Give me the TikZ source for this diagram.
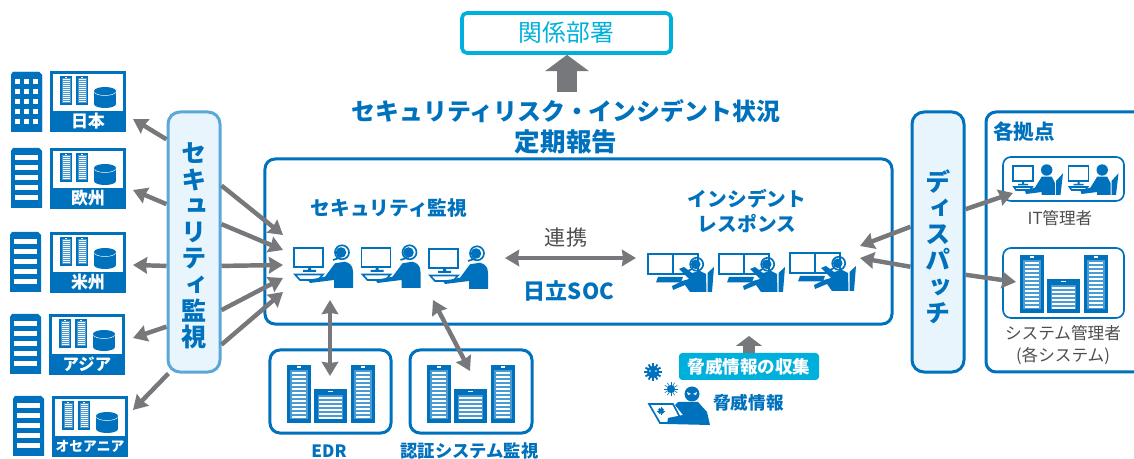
\documentclass[tikz,border=0pt]{standalone}
\usepackage{fontspec}
\setmainfont{Noto Sans CJK JP}
\newfontfamily\vertfont[RawFeature=+vert]{Noto Sans CJK JP}
\usetikzlibrary{arrows.meta, calc}

\definecolor{iconblue}{HTML}{0071BC}
\definecolor{stripeblue}{HTML}{4A9AD4}
\definecolor{paleblue}{HTML}{E8F5FC}
\definecolor{edgeblue}{HTML}{5BA7D8}
\definecolor{skyblue}{HTML}{00B0DC}
\definecolor{arrowgray}{HTML}{77787B}
\definecolor{textgray}{HTML}{4D4D4D}

\tikzset{
  flowarrow/.style={draw=arrowgray,line width=3.8pt,-{Stealth[length=12pt,width=14pt,inset=1pt]}},
  bothways/.style={draw=arrowgray,line width=3.8pt,{Stealth[length=12pt,width=14pt,inset=1pt]}-{Stealth[length=12pt,width=14pt,inset=1pt]}},
  uparrow/.style={draw=arrowgray,line width=#1,-{Triangle[length=14pt,width=37pt]}},
  stackbox/.style={draw=edgeblue,fill=paleblue,line width=0.09cm,rounded corners=0.36cm,
    minimum width=1.56cm,minimum height=7.8cm,inner sep=0pt},
  stacktext/.style={align=center,text=iconblue,inner sep=0pt,
    font=\vertfont\bfseries\fontsize{21.5}{22.4}\selectfont},
  panel/.style={draw=iconblue,line width=0.09cm,rounded corners=0.3cm,inner sep=0pt},
  thinpanel/.style={draw=iconblue,line width=0.05cm,rounded corners=0.24cm,inner sep=0pt,minimum width=3.63cm},
  bluehead/.style={text=iconblue,font=\bfseries\fontsize{#1}{#1}\selectfont,align=center,inner sep=0pt},
  grayhead/.style={text=textgray,font=\fontsize{#1}{#1}\selectfont,align=center,inner sep=0pt},
  sitelabel/.style={text=white,font=\bfseries\fontsize{#1}{#1}\selectfont,inner sep=0pt},
  screen/.style={draw=iconblue,line width=0.05cm,fill=white},
  pics/towerserver/.style={code={
    \fill[iconblue] (0,0) rectangle (24,58);
    \fill[stripeblue] (3,5) rectangle (21,54);
    \foreach \row in {7,11,...,51} {
      \fill[white] (5,\row) rectangle (19,\row+1.8);
    }
    \fill[white] (10,1.5) rectangle (14,3);
  }},
  pics/shortserver/.style={code={
    \fill[iconblue] (0,0) rectangle (33,34);
    \fill[stripeblue] (4,6) rectangle (29,30);
    \foreach \row in {8,12,...,28} {
      \fill[white] (5,\row) rectangle (28,\row+1.8);
    }
    \fill[white] (14,2) rectangle (19,3.5);
  }},
  pics/servergroup/.style={code={
    \pic at (0,0) {towerserver};
    \pic at (27,24) {shortserver};
    \pic at (64,0) {towerserver};
  }},
  pics/windowbuilding/.style={code={
    \fill[iconblue] (0,3) -- (2,0) -- (28,0) -- (31,3) -- (31,60) -- (0,60) -- cycle;
    \foreach \col in {4,13,22} {
      \foreach \row in {7,17,27,37,47} {
        \fill[white] (\col,\row) rectangle (\col+5,\row+5);
      }
    }
  }},
  pics/stripebuilding/.style={code={
    \fill[iconblue] (0,3) -- (2,0) -- (28,0) -- (31,3) -- (31,60) -- (0,60) -- cycle;
    \foreach \row in {7,17,27,37,47} {
      \fill[white] (4,\row) rectangle (27,\row+5);
    }
  }},
  pics/sitepanel/.style={code={
    \fill[iconblue] (0,0) rectangle (76,61);
    \fill[white] (3,3) rectangle (73,40);
    \pic[scale=0.5] at (10,5) {towerserver};
    \pic[scale=0.5] at (26,5) {towerserver};
    \fill[iconblue] (44,20) rectangle (66,33);
    \fill[iconblue] (55,20) ellipse (11 and 4);
    \fill[iconblue] (55,33) ellipse (11 and 4);
    \draw[white,line width=0.4pt] (44.5,21) arc (180:0:10.5 and 3.5);
  }},
  pics/operator/.style={code={
    \draw[screen] (0,0) rectangle (29,19);
    \fill[iconblue] (14,19) rectangle (17,22) (9,22) rectangle (22,24);
    \draw[screen] (1,26.5) -- (29,26.5) -- (24,32) -- (6,32) -- cycle;
    \fill[iconblue] (41,15.3) -- (51,13.7) .. controls (56,15) and (59,18) .. (59,24) -- (59,40) -- (40,40) -- (40,32)
      -- (16,35) -- (14,32) -- (31,28.7) -- cycle;
    \draw[iconblue,line width=0.05cm] (48,4.3) circle (7);
    \fill[iconblue] (47,4.5) circle (5.3);
    \draw[iconblue,line width=0.05cm] (46,9.7) -- (39,12);
  }},
  pics/responder/.style={code={
    \draw[screen] (0,0) rectangle (25,20) (25,0) rectangle (50,20);
    \fill[iconblue] (10,23) -- (35,23) -- (33,28.5) -- (8,28.5) -- cycle;
    \fill[iconblue] (59.5,19) -- (66,13) -- (64,38) -- (59.5,38) -- cycle;
    \fill[iconblue] (31,15) -- (36,13) -- (44,19) -- (52,17) -- (58,20) -- (58.5,38) -- (42,38) -- (37,31)
      -- (25,36) -- (24,32) -- (34,27) -- (41,25) -- cycle;
    \draw[iconblue,line width=0.05cm] (48.7,10.3) circle (6.5);
    \fill[iconblue] (47.7,10.3) circle (4.8);
    \draw[iconblue,line width=0.05cm] (44,15) -- (38,18);
  }},
  pics/admin/.style={code={
    \draw[screen] (0,0) rectangle (20,15);
    \fill[iconblue] (9,15) rectangle (11,18) (5,18) rectangle (15,19.5);
    \draw[screen] (1,21) -- (19,21) -- (17,24) -- (3,24) -- cycle;
    \fill[iconblue] (33.7,4) circle (5.7);
    \fill[iconblue] (43,15) -- (50,7.3) -- (47.5,29) -- (43,29) -- cycle;
    \fill[iconblue] (28.7,10.7) -- (38.7,10.7) -- (42,17) -- (42,29) -- (28.7,29) -- (28.7,26) -- (13,28) -- (12,25) -- (22,21.5) -- cycle;
  }},
  pics/virus/.style 2 args={code={
    \foreach \spoke in {0,30,...,330} {
      \draw[iconblue,line width=#1] (0,0) -- (\spoke:#2);
    }
    \fill[iconblue] (0,0) circle (1);
  }}
}

\begin{document}
\begin{tikzpicture}[x=0.03cm,y=-0.03cm]
  \useasboundingbox (0,0) rectangle (1134,459);

  % top
  \node[draw=skyblue,line width=0.11cm,rounded corners=0.15cm,minimum width=6.27cm,minimum height=1.2cm,
    text=skyblue,font=\fontsize{20.3}{24}\selectfont,inner sep=0pt] (dept) at (566.5,33) {関係部署};
  \node[bluehead=20.4] (report) at (566,127) {セキュリティリスク・インシデント状況\\[5pt]{\fontsize{21.8}{22}\selectfont 定期報告}};
  \coordinate (reportup) at (567,92);
  \draw[uparrow=17pt] (reportup) -- (dept.south -| reportup);

  % soc
  \node[panel,minimum width=18.81cm,minimum height=4.95cm] (soc) at (578.5,241.5) {};
  \node[bluehead=16.8] (monitoring) at (389,208) {セキュリティ監視};
  \node[bluehead=16.8] (response) at (747,211) {インシデント\\[4pt]レスポンス};
  \node[grayhead=18] (link) at (566,238) {連携};
  \node[bluehead=18.8] (socname) at (569,291) {日立SOC};
  \foreach \x/\y in {294/248,361.5/248,429/249} {
    \pic at (\x,\y) {operator};
  }
  \foreach \x/\y in {648/254,719/254,790/253} {
    \pic at (\x,\y) {responder};
  }
  \coordinate (opsright) at (505,258);
  \coordinate (respleft) at (636,258);
  \draw[bothways] (opsright) -- (respleft);

  % security monitoring
  \node[stackbox] (watch) at (194,242) {};
  \node[stacktext] (watchname) at (194,246) {セ\\キ\\ュ\\リ\\テ\\ィ\\監\\視};
  \foreach \name/\x/\y/\place/\size/\bx/\by in {
    jp/50/71/日本/14.5/11/72,
    eu/50/148/欧州/14.5/11/148,
    us/50/232/米州/14.5/10/232,
    as/49/314/アジア/14/10/314,
    oc/52/396/オセアニア/11.8/13/396} {
    \pic at (\bx,\by) {stripebuilding};
    \pic at (\x,\y) {sitepanel};
    \node[sitelabel=\size] (\name) at (\x+38,\y+50.5) {\place};
  }
  \pic at (11,72) {windowbuilding};
  \foreach \name/\angle/\x/\y in {
    jp/105.3/133/119,
    eu/126.6/133/190,
    us/221.5/133/265,
    as/252/133/338,
    oc/259/133/410} {
    \coordinate (\name end) at (\x,\y);
    \draw[flowarrow] (watch.\angle) -- (\name end);
  }
  \foreach \name/\angle/\x/\y in {
    opa/64.7/283/235,
    opb/33.2/283/250,
    opc/-41.5/283/265,
    opd/-68.5/283/278,
    ope/-75.8/283/292} {
    \coordinate (\name) at (\x,\y);
    \draw[flowarrow] (watch.\angle) -- (\name);
  }

  % servers
  \node[panel,minimum width=3.63cm,minimum height=2.49cm] (edr) at (330.5,391.5) {};
  \node[panel,minimum width=3.66cm,minimum height=2.49cm] (auth) at (471,391.5) {};
  \pic at (287,365) {servergroup};
  \pic at (427,365) {servergroup};
  \node[bluehead=14.5] (edrname) at (329,451) {EDR};
  \node[bluehead=14.8] (authname) at (469.5,451) {認証システム監視};
  \coordinate (edrtop) at (330,300);
  \coordinate (edrend) at (330,376);
  \coordinate (authtop) at (433,300);
  \coordinate (authend) at (470,371);
  \draw[bothways] (edrtop) -- (edrend);
  \draw[bothways] (authtop) -- (authend);

  % threat
  \node[fill=skyblue,rounded corners=0.1cm,minimum width=4.2cm,minimum height=0.81cm,inner sep=0pt,
    text=white,font=\bfseries\fontsize{15}{15}\selectfont] (collect) at (749,366.5) {脅威情報の収集};
  \coordinate (collectup) at (749,336);
  \draw[uparrow=11pt,arrows={-{Triangle[length=8.5pt,width=22pt]}}] (collect.north) -- (collectup);
  \node[bluehead=15] (threat) at (748.5,403) {脅威情報};
  \pic[scale=6] at (653,372) {virus={1.6pt}{1.45}};
  \fill[white] (650,371) circle (0.8) (656,371) circle (0.8);
  \pic[scale=4] at (671,389) {virus={0.5pt}{1.8}};
  \fill[iconblue] (692,394) circle (7.5);
  \fill[white] (687,392) -- (691,394) -- (688,395) -- cycle (697,392) -- (693,394) -- (696,395) -- cycle;
  \draw[screen] (649,404) -- (673,404) -- (683,423) -- (660,423) -- cycle;
  \pic[scale=2.6] at (661,411) {virus={0.5pt}{1.35}};
  \fill[iconblue] (678,402) -- (698,402) -- (707,412) -- (710,425) -- (667,424) -- (668,418) -- (683,415) -- (675,405) -- cycle;

  % dispatch
  \node[stackbox,draw=iconblue] (dispatch) at (938,242) {};
  \node[stacktext] (dispatchname) at (938,246.5) {デ\\ィ\\ス\\パ\\ッ\\チ};
  \draw[panel] (1140,112) -- (986,112) -- (986,372) -- (1140,372);
  \node[bluehead=17.5] (sites) at (1024,132) {各拠点};
  \node[thinpanel,minimum height=1.32cm] (itbox) at (1063.5,179) {};
  \node[thinpanel,minimum height=2.1cm] (sysbox) at (1063.5,283) {};
  \pic at (1013,166) {admin};
  \pic at (1068.5,166) {admin};
  \pic at (1020,255) {servergroup};
  \node[grayhead=14.2] (itname) at (1060,218) {IT管理者};
  \node[grayhead=14.2] (sysname) at (1063,345) {システム管理者\\[5pt](各システム)};
  \coordinate (itend) at (1013,193);
  \coordinate (sysend) at (1016,282);
  \coordinate (respa) at (860,246);
  \coordinate (respb) at (860,258);
  \draw[flowarrow] (dispatch.{atan(32/26)}) -- (itend);
  \draw[flowarrow] (dispatch.{-atan(31/26)}) -- (sysend);
  \draw[flowarrow] (dispatch.{180-atan(14/26)}) -- (respa);
  \draw[flowarrow] (dispatch.{180+atan(24/26)}) -- (respb);
\end{tikzpicture}
\end{document}
